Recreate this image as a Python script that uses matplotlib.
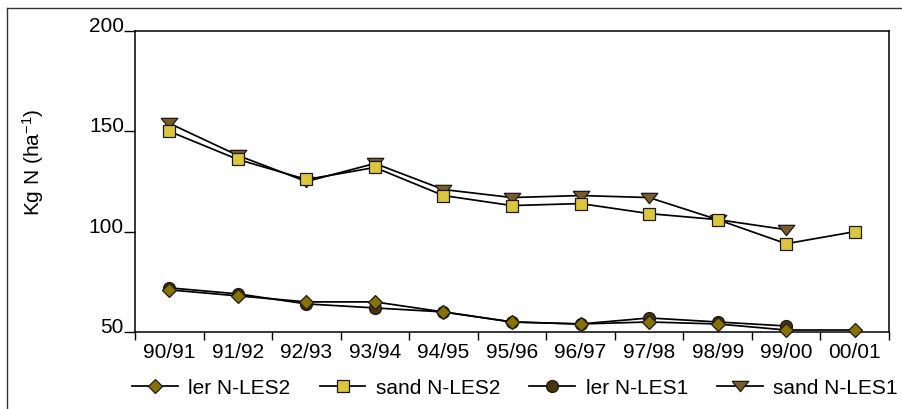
import numpy as np
import matplotlib
matplotlib.use("Agg")
import matplotlib.pyplot as plt
from matplotlib.lines import Line2D
from matplotlib.ticker import FixedLocator

plt.rcParams['font.family'] = ['Liberation Sans', 'DejaVu Sans']
plt.rcParams['mathtext.fontset'] = 'custom'
plt.rcParams['mathtext.rm'] = 'Liberation Sans'
plt.rcParams['mathtext.it'] = 'Liberation Sans:italic'

seasons = ["90/91", "91/92", "92/93", "93/94", "94/95", "95/96",
           "96/97", "97/98", "98/99", "99/00", "00/01"]
ler_nles2 = [71, 68, 65, 65, 60, 55, 54, 55, 54, 51, 51]
sand_nles2 = [150, 136, 126, 132, 118, 113, 114, 109, 106, 94, 100]
ler_nles1 = [72, 69, 64, 62, 60, 55, 54, 57, 55, 53]
sand_nles1 = [154, 138, 125, 134, 121, 117, 118, 117, 106, 101]
yticks = [50, 100, 150, 200]

FS = 15

fig = plt.figure(figsize=(9.03, 4.10), dpi=100)
ax = fig.add_axes([135 / 903, 1 - 333 / 410, (889 - 135) / 903, (333 - 32) / 410])

# flattened down-pointing triangle
tri = [(-1, 0.62), (1, 0.62), (0, -0.62), (-1, 0.62)]

styles = {
    "ler N-LES2": dict(marker="D", ms=7.4, mfc="#8a7200", zorder=6),
    "sand N-LES2": dict(marker="s", ms=8.6, mfc="#dcc63e", zorder=5),
    "ler N-LES1": dict(marker="o", ms=8.6, mfc="#4a3305", zorder=4),
    "sand N-LES1": dict(marker=tri, ms=12.0, mfc="#7b5a2c", zorder=3),
}
series = {
    "ler N-LES2": ler_nles2,
    "sand N-LES2": sand_nles2,
    "ler N-LES1": ler_nles1,
    "sand N-LES1": sand_nles1,
}

handles = []
for name, vals in series.items():
    st = styles[name]
    x = np.arange(len(vals))
    ln, = ax.plot(x, vals, color="black", lw=1.25, marker=st["marker"],
                  ms=st["ms"], mfc=st["mfc"], mec="#1a1a1a", mew=0.9,
                  zorder=st["zorder"], clip_on=False, label=name)
    handles.append(ln)

ax.set_xlim(-0.5, len(seasons) - 0.5)
ax.set_ylim(50, 200)

ax.set_xticks(np.arange(len(seasons)))
ax.set_xticklabels(seasons, fontsize=FS)
ax.xaxis.set_minor_locator(FixedLocator(np.arange(-0.5, len(seasons), 1.0)))
ax.tick_params(axis="x", which="major", length=0, pad=7)
ax.tick_params(axis="x", which="minor", length=5.5, width=1.0, direction="out")

ax.set_yticks(yticks)
ax.set_yticklabels([str(v) for v in yticks], fontsize=FS)
ax.tick_params(axis="y", length=8, width=1.0, direction="out", pad=0)
for lab in ax.get_yticklabels():
    lab.set_verticalalignment("baseline")

for sp in ax.spines.values():
    sp.set_linewidth(1.1)
    sp.set_color("black")

fig.text(33 / 903, 1 - 162 / 410, "Kg N (ha$^{-1}$)", rotation=90,
         ha="center", va="center", fontsize=FS)

fig.legend(handles=handles, loc="center", ncol=4, frameon=False,
           bbox_to_anchor=(515 / 903, 1 - 389 / 410), fontsize=FS,
           handlelength=2.2, handletextpad=0.5, columnspacing=1.4,
           borderaxespad=0, borderpad=0)

# outer frame lines
fig.add_artist(Line2D([7 / 903, 1.0], [1 - 9 / 410, 1 - 9 / 410],
                      transform=fig.transFigure, color="#333333", lw=1.0))
fig.add_artist(Line2D([7 / 903, 7 / 903], [0.0, 1 - 9 / 410],
                      transform=fig.transFigure, color="#333333", lw=1.0))

fig.savefig("out.png", dpi=100)
